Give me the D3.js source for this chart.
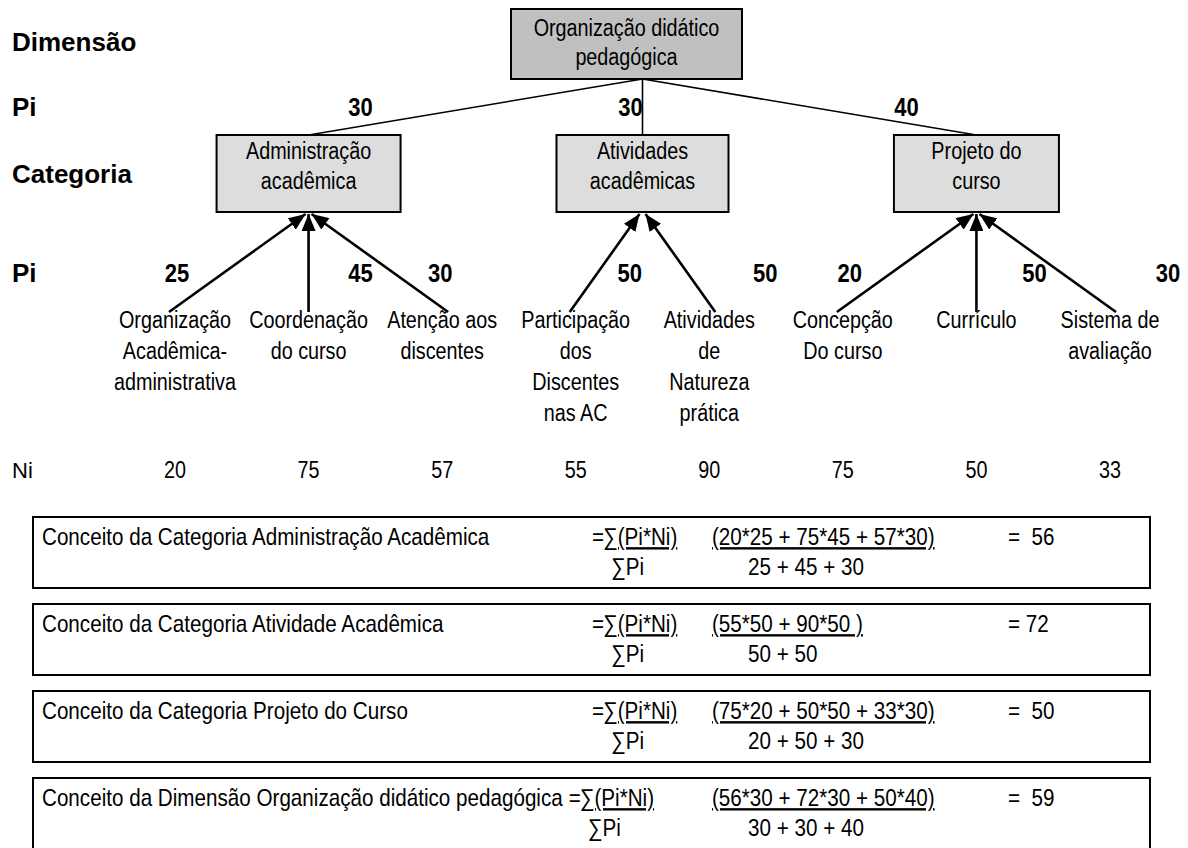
<!DOCTYPE html>
<html>
<head>
<meta charset="utf-8">
<script src="https://cdn.jsdelivr.net/npm/d3@7"></script>
<style>
  body { margin: 0; background: #fff; }
  text { white-space: pre; }
</style>
</head>
<body>
<script>
// ---- data ----
var dimension = ["Organização didático", "pedagógica"];
var categories = [["Administração", "acadêmica"], ["Atividades", "acadêmicas"], ["Projeto do", "curso"]];
var categoryPi = [30, 30, 40];
var items = [
  ["Organização", "Acadêmica-", "administrativa"],
  ["Coordenação", "do curso"],
  ["Atenção aos", "discentes"],
  ["Participação", "dos", "Discentes", "nas AC"],
  ["Atividades", "de", "Natureza", "prática"],
  ["Concepção", "Do curso"],
  ["Currículo"],
  ["Sistema de", "avaliação"]
];
var itemCategory = [0, 0, 0, 1, 1, 2, 2, 2];
var itemPi = [25, 45, 30, 50, 50, 20, 50, 30];
var itemNi = [20, 75, 57, 55, 90, 75, 50, 33];
var rowLabels = ["Dimensão", "Pi", "Categoria", "Pi"];
var formulaTitles = [
  "Conceito da Categoria Administração Acadêmica",
  "Conceito da Categoria Atividade Acadêmica",
  "Conceito da Categoria Projeto do Curso",
  "Conceito da Dimensão Organização didático pedagógica"
];
var formulaNumerators = ["(20*25 + 75*45 + 57*30)", "(55*50 + 90*50 )", "(75*20 + 50*50 + 33*30)", "(56*30 + 72*30 + 50*40)"];
var formulaDenominators = ["25 + 45 + 30", "50 + 50", "20 + 50 + 30", "30 + 30 + 40"];
var formulaResults = ["=  56", "= 72", "=  50", "=  59"];

// ---- layout ----
var width = 1188, height = 848;
var sans = "'Liberation Sans',Arial,sans-serif";
var squeeze = 0.86;   // the original uses a narrow face
var catBoxW = [184, 172, 165];
var topPiDx = [52, -12, -70];
var piDx = [2, 52, -2, 54, 56, 7, 58, 58];

var svg = d3.select("body").append("svg")
  .attr("width", width)
  .attr("height", height);

// narrow text: regular face squeezed horizontally
function ntext(sel, x, y, str, size, opts) {
  opts = opts || {};
  var t = sel.append("text")
    .attr("transform", "translate(" + x + "," + y + ") scale(" + (opts.k || squeeze) + ",1)")
    .attr("text-anchor", opts.anchor || "start")
    .style("font-family", sans)
    .style("font-size", size + "px")
    .style("font-weight", opts.bold ? "bold" : null)
    .style("text-decoration", opts.underline ? "underline" : null)
    .text(str);
  return t;
}

var x = d3.scalePoint()
  .domain(d3.range(items.length))
  .range([175, 1110]);

var catX = categories.map(function(c, ci) {
  return d3.mean(d3.range(items.length).filter(function(i) { return itemCategory[i] == ci; }), function(i) { return x(i); });
});

var rowY = d3.scaleOrdinal()
  .domain(["dim", "pi1", "cat", "pi2", "items", "ni"])
  .range([51, 116, 183, 282, 328, 478]);

svg.append("defs").append("marker")
    .attr("id", "arrow")
    .attr("viewBox", "0 -7 17 14")
    .attr("refX", 17)
    .attr("refY", 0)
    .attr("markerUnits", "userSpaceOnUse")
    .attr("markerWidth", 17)
    .attr("markerHeight", 14)
    .attr("orient", "auto")
  .append("path")
    .attr("d", "M0,-7L17,0L0,7Z")
    .attr("fill", "black");

// row labels on the left
svg.append("g").selectAll("text")
    .data(rowLabels)
  .enter().append("text")
    .attr("x", 12)
    .attr("y", function(d, i) { return rowY(["dim", "pi1", "cat", "pi2"][i]); })
    .style("font-family", sans)
    .style("font-weight", "bold")
    .style("font-size", "26px")
    .text(function(d) { return d; });

svg.append("text")
    .attr("x", 12)
    .attr("y", rowY("ni"))
    .style("font-family", sans)
    .style("font-size", "22px")
    .text("Ni");

// lines from dimension to categories
var hub = catX[1];
var topBottom = 79, catTop = 135, catBottom = 212;

svg.append("g").selectAll("line")
    .data(categories)
  .enter().append("line")
    .attr("x1", hub)
    .attr("y1", topBottom)
    .attr("x2", function(d, i) { return catX[i]; })
    .attr("y2", catTop)
    .style("stroke", "black")
    .style("stroke-width", 1.6);

// dimension box
var topW = 231, topCx = hub - 16;
svg.append("rect")
    .attr("x", topCx - topW / 2)
    .attr("y", 9)
    .attr("width", topW)
    .attr("height", topBottom - 9)
    .style("fill", "#c0c0c0")
    .style("stroke", "black")
    .style("stroke-width", 2);

var dimG = svg.append("g");
dimension.forEach(function(d, i) {
  ntext(dimG, topCx, 36 + i * 29, d, 23, {anchor: "middle"});
});

// category weights
var cpG = svg.append("g");
categoryPi.forEach(function(d, i) {
  ntext(cpG, catX[i] + topPiDx[i], rowY("pi1"), d, 25, {anchor: "middle", bold: true, k: 0.88});
});

// category boxes
var cat = svg.append("g").selectAll("g")
    .data(categories)
  .enter().append("g");

cat.append("rect")
    .attr("x", function(d, i) { return catX[i] - catBoxW[i] / 2; })
    .attr("y", catTop)
    .attr("width", function(d, i) { return catBoxW[i]; })
    .attr("height", catBottom - catTop)
    .style("fill", "#dddddd")
    .style("stroke", "black")
    .style("stroke-width", 2);

cat.each(function(d, i) {
  var g = d3.select(this);
  d.forEach(function(t, k) {
    ntext(g, catX[i], 159 + k * 30, t, 23, {anchor: "middle"});
  });
});

// arrows from items up to categories
svg.append("g").selectAll("line")
    .data(items)
  .enter().append("line")
    .attr("x1", function(d, i) { return x(i) + Math.sign(Math.round(x(i) - catX[itemCategory[i]])) * 6; })
    .attr("y1", 312)
    .attr("x2", function(d, i) {
      var c = catX[itemCategory[i]];
      return c + Math.sign(Math.round(x(i) - c)) * 3;
    })
    .attr("y2", catBottom + 2)
    .attr("marker-end", "url(#arrow)")
    .style("stroke", "black")
    .style("stroke-width", 2.6);

// item weights
var ipG = svg.append("g");
itemPi.forEach(function(d, i) {
  ntext(ipG, x(i) + piDx[i], rowY("pi2"), d, 25, {anchor: "middle", bold: true, k: 0.88});
});

// item labels
var item = svg.append("g").selectAll("g")
    .data(items)
  .enter().append("g");

item.each(function(d, i) {
  var g = d3.select(this);
  d.forEach(function(t, k) {
    ntext(g, x(i), rowY("items") + k * 31, t, 23, {anchor: "middle"});
  });
});

// Ni values
var niG = svg.append("g");
itemNi.forEach(function(d, i) {
  ntext(niG, x(i), rowY("ni"), d, 23, {anchor: "middle"});
});

// formula boxes
var fy = d3.scaleLinear().domain([0, 1]).range([517, 604]);
var boxH = 71;

var f = svg.append("g").selectAll("g")
    .data(formulaTitles)
  .enter().append("g")
    .attr("transform", function(d, i) { return "translate(0," + fy(i) + ")"; });

f.append("rect")
    .attr("x", 33)
    .attr("y", 0)
    .attr("width", 1117)
    .attr("height", boxH)
    .style("fill", "none")
    .style("stroke", "black")
    .style("stroke-width", 2);

f.each(function(d, i) {
  var g = d3.select(this);
  var title = ntext(g, 42, 28, d, 24);
  var tEnd = 42 + title.node().getComputedTextLength() * squeeze;
  // long titles push the "=" right up against them
  var eqX = tEnd > 550 ? tEnd + 6 : 592;
  ntext(g, eqX, 28, "=", 24);
  ntext(g, eqX + 11, 28, "∑(Pi*Ni)", 24, {underline: true});
  ntext(g, eqX + 19, 58, "∑Pi", 24);
  ntext(g, 712, 28, formulaNumerators[i], 24, {underline: true});
  ntext(g, 748, 58, formulaDenominators[i], 24);
  ntext(g, 1008, 28, formulaResults[i], 24);
});
</script>
</body>
</html>
